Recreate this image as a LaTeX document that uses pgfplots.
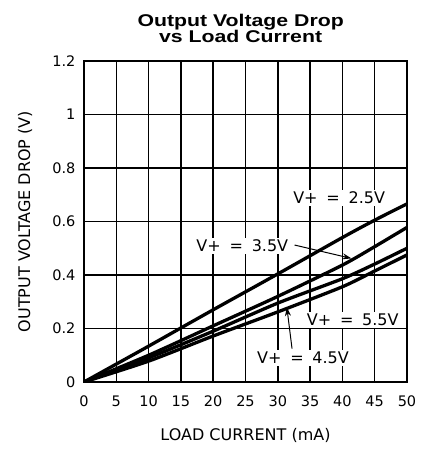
\documentclass[border=0pt]{standalone}
\usepackage{pgfplots}
\pgfplotsset{compat=1.18}
\usepackage{fontspec}
\setmainfont{DejaVu Sans}
\newfontfamily\titlefont[FakeStretch=1.25]{Liberation Sans}
\usetikzlibrary{arrows.meta}
\newcommand{\gap}{\hspace{0.55em}}
\begin{document}
\begin{tikzpicture}
\useasboundingbox (-84pt,-70pt) rectangle (337pt,382pt);
\begin{axis}[
  at={(0,0)}, anchor=south west,
  scale only axis, width=323pt, height=321pt,
  xmin=0, xmax=50, ymin=0, ymax=1.2,
  xtick={0,5,10,15,20,25,30,35,40,45,50},
  ytick={0,0.2,0.4,0.6,0.8,1,1.2},
  yticklabels={0,0.2,0.4,0.6,0.8,1,1.2},
  grid=major,
  grid style={line width=1.5pt, black},
  axis line style={line width=2.6pt, black},
  major tick length=0pt,
  /pgf/number format/assume math mode=true,
  tick label style={font=\fontsize{14.5}{16}\selectfont},
  yticklabel style={xshift=-5pt},
  xticklabel style={yshift=-10pt},
  title={Output Voltage Drop\\vs Load Current},
  title style={font=\titlefont\fontsize{17}{16}\selectfont\bfseries, align=center,
    at={(axis description cs:0.485,1)}, anchor=south, yshift=12pt, inner sep=0pt},
  xlabel={LOAD CURRENT (mA)},
  xlabel style={font=\fontsize{16}{18}\selectfont, at={(axis description cs:0.5,0)},
    anchor=north, yshift=-46pt, inner sep=0pt},
  ylabel={OUTPUT VOLTAGE DROP (V)},
  ylabel style={font=\fontsize{16}{18}\selectfont, at={(axis description cs:0,0.5)},
    anchor=center, rotate=0, yshift=59pt, inner sep=0pt},
]
\addplot[black, line width=3.3pt, no markers, smooth, tension=0.4] coordinates {(0,0) (5,0.067) (10,0.134) (20,0.27) (30,0.404) (40,0.54) (45,0.605) (50,0.666)};
\addplot[black, line width=3.3pt, no markers, smooth, tension=0.4] coordinates {(0,0) (10,0.10) (20,0.21) (30,0.32) (40,0.437) (45,0.506) (50,0.578)};
\addplot[black, line width=3.3pt, no markers, smooth, tension=0.4] coordinates {(0,0) (10,0.09) (20,0.19) (30,0.295) (40,0.386) (45,0.441) (50,0.50)};
\addplot[black, line width=3.3pt, no markers, smooth, tension=0.4] coordinates {(0,0) (10,0.078) (20,0.172) (30,0.262) (40,0.356) (45,0.415) (50,0.475)};
\begin{scope}[every node/.style={font=\fontsize{16}{18}\selectfont, fill=white, inner sep=2pt}]
\node at (axis cs:39.5,0.688) {V+\gap=\gap2.5V};
\node at (axis cs:24.5,0.508) {V+\gap=\gap3.5V};
\node at (axis cs:41.6,0.232) {V+\gap=\gap5.5V};
\node at (axis cs:33.9,0.09) {V+\gap=\gap4.5V};
\end{scope}
\draw[line width=1pt, -{Stealth[length=9pt,width=6pt]}] (axis cs:32.6,0.512) -- (axis cs:41.4,0.462);
\draw[line width=1pt, -{Stealth[length=9pt,width=6pt]}] (axis cs:32.2,0.125) -- (axis cs:31.4,0.28);
\end{axis}
\end{tikzpicture}
\end{document}
